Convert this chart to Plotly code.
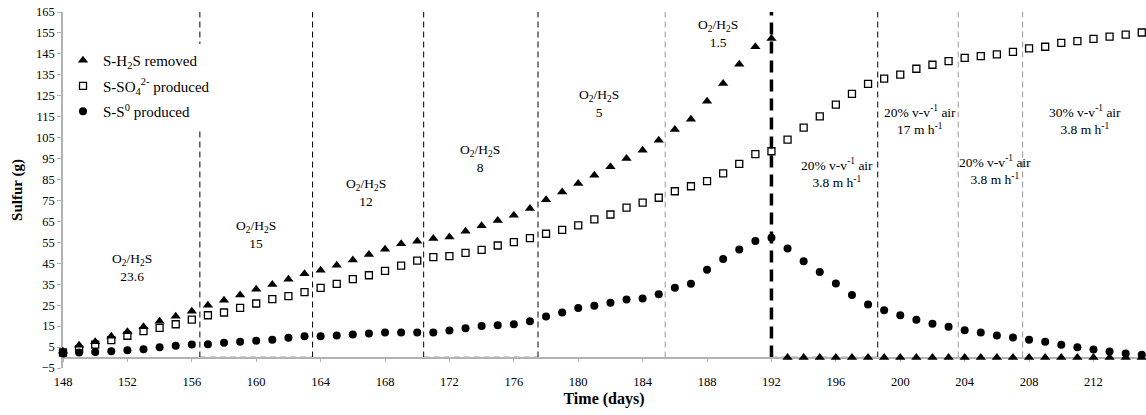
import plotly.graph_objects as go

# ---------------- data ----------------
days = [148, 149, 150, 151, 152, 153, 154, 155, 156, 157, 158, 159, 160, 161, 162,
        163, 164, 165, 166, 167, 168, 169, 170, 171, 172, 173, 174, 175, 176, 177,
        178, 179, 180, 181, 182, 183, 184, 185, 186, 187, 188, 189, 190, 191, 192,
        193, 194, 195, 196, 197, 198, 199, 200, 201, 202, 203, 204, 205, 206, 207,
        208, 209, 210, 211, 212, 213, 214, 215]

h2s_removed = [3.0, 5.9, 7.5, 10.2, 12.3, 14.7, 17.3, 19.7, 22.1, 25.0, 27.4, 29.8, 32.6, 34.9, 37.4,
               40.0, 41.7, 44.1, 46.6, 49.2, 51.7, 54.3, 55.5, 56.8, 57.6, 60.3, 62.9, 65.4, 68.0, 71.2,
               75.3, 79.1, 83.1, 87.1, 91.1, 95.0, 99.0, 103.8, 108.9, 113.8, 122.4, 130.8, 140.1, 148.4, 152.3,
               0, 0, 0, 0, 0, 0, 0, 0, 0, 0, 0, 0, 0, 0, 0,
               0, 0, 0, 0, 0, 0, 0, 0]

so4_produced = [2.4, 4.0, 6.2, 8.3, 10.4, 12.6, 14.2, 15.9, 18.1, 20.2, 21.5, 23.7, 25.8, 27.9, 29.3,
                31.2, 33.3, 35.2, 37.4, 39.3, 41.4, 43.9, 46.3, 47.9, 48.4, 50.0, 51.4, 53.5, 55.1, 57.0,
                59.1, 61.0, 63.1, 66.0, 68.3, 71.6, 74.0, 76.3, 79.4, 81.8, 84.2, 87.9, 92.5, 97.1, 98.5,
                104.1, 109.8, 115.2, 120.8, 125.9, 130.7, 133.2, 135.1, 137.9, 139.8, 141.5, 143.1, 143.9, 144.8, 146.0,
                147.6, 148.4, 150.3, 151.1, 152.2, 153.2, 154.2, 155.2]

s0_produced = [1.9, 2.4, 2.7, 3.0, 3.5, 4.0, 4.9, 5.6, 6.2, 6.4, 7.0, 7.5, 8.0, 8.5, 9.4,
               10.2, 10.2, 10.5, 11.0, 11.5, 11.9, 11.9, 11.9, 11.9, 12.9, 14.0, 15.0, 15.4, 15.9, 17.3,
               19.6, 21.5, 23.6, 24.7, 26.1, 27.7, 28.2, 30.2, 33.3, 35.2, 41.9, 47.0, 51.6, 55.6, 57.2,
               52.1, 46.0, 40.9, 35.3, 29.8, 25.3, 22.6, 20.2, 18.1, 16.1, 14.7, 13.0, 11.9, 10.5, 9.6,
               8.5, 7.5, 6.1, 4.9, 3.8, 2.9, 1.9, 1.3]

# period boundaries (days) and their line style
period_bounds = [156.5, 163.5, 170.4, 177.5, 185.4, 192.0, 198.6, 203.6, 207.6]
bound_styles = ["black", "black", "black", "black", "gray", "thick", "black", "gray", "gray"]
# bottom dashed segments (index pairs into period_bounds)
bottom_segments = [(0, 1), (2, 3), (5, 6)]

label_texts = [
    "O<sub>2</sub>/H<sub>2</sub>S<br>23.6",
    "O<sub>2</sub>/H<sub>2</sub>S<br>15",
    "O<sub>2</sub>/H<sub>2</sub>S<br>12",
    "O<sub>2</sub>/H<sub>2</sub>S<br>8",
    "O<sub>2</sub>/H<sub>2</sub>S<br>5",
    "O<sub>2</sub>/H<sub>2</sub>S<br>1.5",
    "20% v-v<sup>-1</sup> air<br>3.8 m h<sup>-1</sup>",
    "20% v-v<sup>-1</sup> air<br>17 m h<sup>-1</sup>",
    "20% v-v<sup>-1</sup> air<br>3.8 m h<sup>-1</sup>",
    "30% v-v<sup>-1</sup> air<br>3.8 m h<sup>-1</sup>",
]
label_x = [152.3, 160.0, 166.8, 173.9, 181.3, 188.7, 196.1, 201.2, 205.9, 211.5]
label_y = [43, 58.7, 79, 95, 121.5, 154.7, 88, 113.6, 89.7, 113.6]

y_ticks = list(range(-5, 166, 10))
x_ticks = [148, 152, 156, 160, 164, 168, 172, 176, 180, 184, 188, 192, 196, 200, 204, 208, 212]

Y_MIN, Y_MAX = -5, 165
X_MIN, X_MAX = 148, 215.2

FONT = "Liberation Serif"
AXIS_GRAY = "#b3b3b3"

fig = go.Figure()

fig.add_trace(go.Scatter(
    x=days, y=h2s_removed, mode="markers", name="S-H<sub>2</sub>S removed",
    marker=dict(symbol="triangle-up", size=9, color="black"),
    legendgroup="a", cliponaxis=False,
))
fig.add_trace(go.Scatter(
    x=days, y=so4_produced, mode="markers", name="S-SO<sub>4</sub><sup>2-</sup> produced",
    marker=dict(symbol="square-open", size=7, color="black", line=dict(width=1.3, color="black")),
    legendgroup="b", cliponaxis=False,
))
fig.add_trace(go.Scatter(
    x=days, y=s0_produced, mode="markers", name="S-S<sup>0</sup> produced",
    marker=dict(symbol="circle", size=8, color="black"),
    legendgroup="c", cliponaxis=False,
))

style_map = {
    "black": dict(color="black", width=1, dash="6px,4px"),
    "gray": dict(color="#999999", width=1, dash="6px,4px"),
    "thick": dict(color="black", width=3.5, dash="12px,7px"),
}
for xb, st in zip(period_bounds, bound_styles):
    fig.add_shape(type="line", xref="x", yref="y", x0=xb, x1=xb, y0=0, y1=Y_MAX,
                  line=style_map[st], layer="below")

for i0, i1 in bottom_segments:
    fig.add_shape(type="line", xref="x", yref="y",
                  x0=period_bounds[i0], x1=period_bounds[i1], y0=0, y1=0,
                  line=dict(color="#555555", width=1.5, dash="6px,4px"), layer="below")

for t, lx, ly in zip(label_texts, label_x, label_y):
    fig.add_annotation(x=lx, y=ly, xref="x", yref="y", text=t, showarrow=False,
                       font=dict(family=FONT, size=13.5, color="black"), align="center")

fig.update_layout(
    width=1146, height=415,
    margin=dict(l=63, r=1, t=12, b=47, autoexpand=False),
    paper_bgcolor="white", plot_bgcolor="white",
    font=dict(family=FONT, color="black"),
    showlegend=True,
    legend=dict(
        x=0.0, y=0.91, xanchor="left", yanchor="top",
        bgcolor="white", borderwidth=0,
        font=dict(family=FONT, size=15, color="black"),
        traceorder="grouped", tracegroupgap=3,
    ),
    xaxis=dict(
        range=[X_MIN, X_MAX], tickvals=x_ticks,
        showgrid=False, zeroline=False, automargin=False,
        showline=True, linecolor=AXIS_GRAY, linewidth=1.5, layer="below traces",
        ticks="outside", ticklen=4, tickcolor=AXIS_GRAY,
        tickfont=dict(family=FONT, size=12.5, color="black"),
        anchor="free", position=(0 - Y_MIN) / (Y_MAX - Y_MIN),
        ticklabelstandoff=9,
        title=dict(text="<b>Time (days)</b>", font=dict(family=FONT, size=16, color="black"), standoff=4),
    ),
    yaxis=dict(
        range=[Y_MIN, Y_MAX], tickvals=y_ticks,
        showgrid=False, zeroline=False, automargin=False,
        showline=True, linecolor=AXIS_GRAY, linewidth=1.5, layer="below traces",
        ticks="outside", ticklen=4, tickcolor=AXIS_GRAY,
        tickfont=dict(family=FONT, size=12.5, color="black"),
        title=dict(text="<b>Sulfur (g)</b>", font=dict(family=FONT, size=15, color="black"), standoff=10),
    ),
)

# remove the browser's default 8px page margin so the figure fills the window
fig.write_html("out.html", config={"displayModeBar": False},
               post_script="document.body.style.margin='0px';")
